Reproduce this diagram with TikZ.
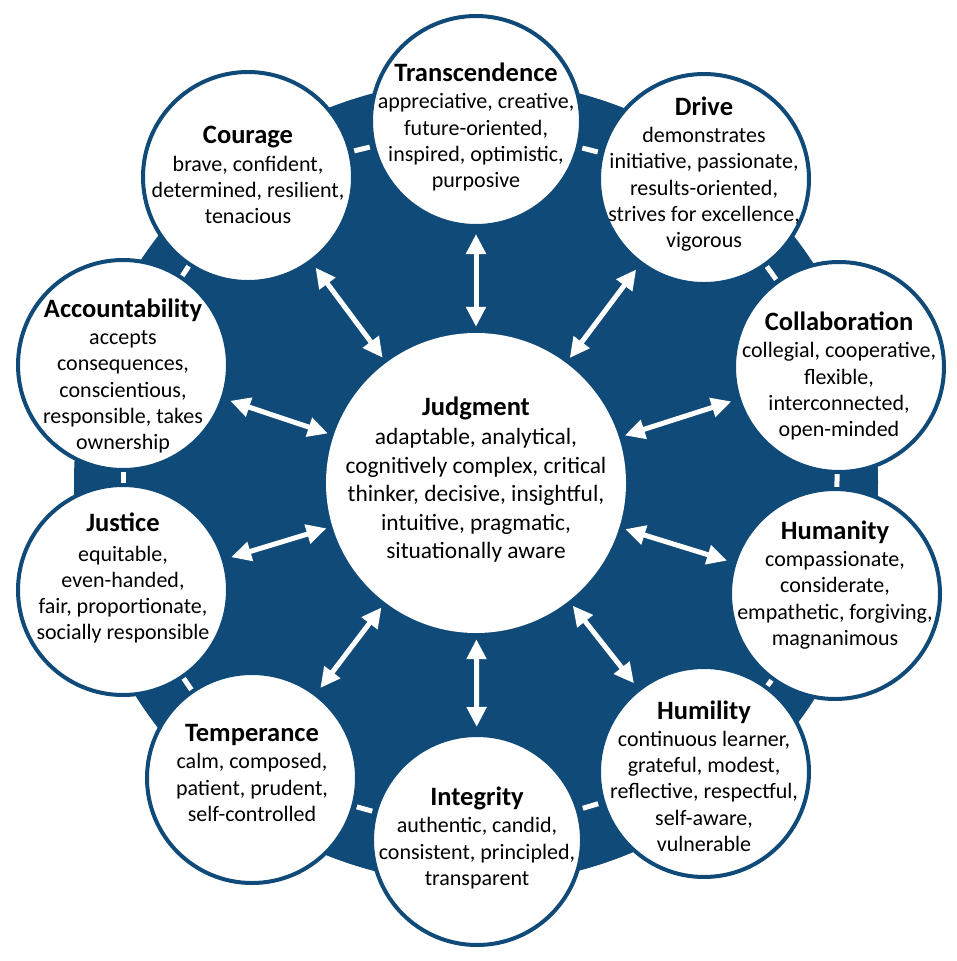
\documentclass[tikz,border=0pt]{standalone}
\usepackage{fontspec}
\setmainfont{Carlito}
\usetikzlibrary{arrows.meta,calc}
\definecolor{navy}{RGB}{16,74,120}
\newcommand{\ttl}[1]{{\fontsize{26.5}{31}\selectfont\bfseries #1}}
\newcommand{\jttl}[1]{{\fontsize{26.5}{31}\selectfont\bfseries #1}}
\begin{document}
\begin{tikzpicture}[x=1pt,y=-1pt,
  outer/.style={circle, minimum size=210pt, inner sep=0pt, fill=white, draw=navy, line width=4pt},
  txt/.style={inner sep=0pt, align=center, font=\fontsize{22}{26.2}\selectfont, text=black},
  judge/.style={circle, minimum size=300pt, inner sep=0pt, fill=white},
  jtxt/.style={inner sep=0pt, align=center, font=\fontsize{23.4}{28.6}\selectfont, text=black},
  arr/.style={white, line width=5pt, {Triangle[length=20pt,width=19pt]}-{Triangle[length=20pt,width=19pt]}, shorten <=6pt, shorten >=6pt},
  tick/.style={white, line width=5pt}]
\useasboundingbox (0,0) rectangle (957,961);
\fill[navy] (476,482) circle (402);
\coordinate (pT) at (476,121);
\coordinate (pD) at (704,179);
\coordinate (pC) at (839,367);
\coordinate (pH) at (835,594);
\coordinate (pHu) at (704,772);
\coordinate (pI) at (477,840);
\coordinate (pTe) at (252,778);
\coordinate (pJu) at (123,590);
\coordinate (pA) at (123,365);
\coordinate (pCo) at (248,177);
\foreach \a/\b in {pT/pD,pD/pC,pC/pH,pH/pHu,pHu/pI,pI/pTe,pTe/pJu,pJu/pA,pA/pCo,pCo/pT}{
  \coordinate (m) at ($(\a)!0.5!(\b)$);
  \draw[tick] ($(m)!8pt!(\a)$) -- ($(m)!8pt!(\b)$);
}
\node[judge] (J) at (476,483) {};
\node[jtxt] (Jt) at (476,480) {\jttl{Judgment}\\ adaptable, analytical,\\ cognitively complex, critical\\ thinker, decisive, insightful,\\ intuitive, pragmatic,\\ situationally aware};
\foreach \n in {T,D,C,H,Hu,I,Te,Ju,A,Co}{
  \node[outer] (\n) at (p\n) {};
}
\node[txt] (Tt) at ($(pT)+(0,6)$) {\ttl{Transcendence}\\[1pt] appreciative, creative,\\ future-oriented,\\ inspired, optimistic,\\ purposive};
\node[txt] (Dt) at ($(pD)+(0,-5)$) {\ttl{Drive}\\[1pt] demonstrates\\ initiative, passionate,\\ results-oriented,\\ strives for excellence,\\ vigorous};
\node[txt] (Ct) at ($(pC)+(0,9)$) {\ttl{Collaboration}\\[1pt] collegial, cooperative,\\ flexible,\\ interconnected,\\ open-minded};
\node[txt] (Ht) at ($(pH)+(0,-9)$) {\ttl{Humanity}\\[1pt] compassionate,\\ considerate,\\ empathetic, forgiving,\\ magnanimous};
\node[txt] (Hut) at ($(pHu)+(0,4)$) {\ttl{Humility}\\[1pt] continuous learner,\\ grateful, modest,\\ reflective, respectful,\\ self-aware,\\ vulnerable};
\node[txt] (It) at ($(pI)+(0,-2)$) {\ttl{Integrity}\\[1pt] authentic, candid,\\ consistent, principled,\\ transparent};
\node[txt] (Tet) at ($(pTe)+(0,-5)$) {\ttl{Temperance}\\[1pt] calm, composed,\\ patient, prudent,\\ self-controlled};
\node[txt] (Jut) at ($(pJu)+(0,-12)$) {\ttl{Justice}\\[4pt] equitable,\\ even-handed,\\ fair, proportionate,\\ socially responsible};
\node[txt] (At) at ($(pA)+(0,11)$) {\ttl{Accountability}\\[1pt] accepts\\ consequences,\\ conscientious,\\ responsible, takes\\ ownership};
\node[txt] (Cot) at ($(pCo)+(0,-2)$) {\ttl{Courage}\\[1pt] brave, confident,\\ determined, resilient,\\ tenacious};
\foreach \n in {T,D,C,H,Hu,I,Te,Ju,A,Co}{
  \draw[arr] (J) -- (\n);
}
\end{tikzpicture}
\end{document}
